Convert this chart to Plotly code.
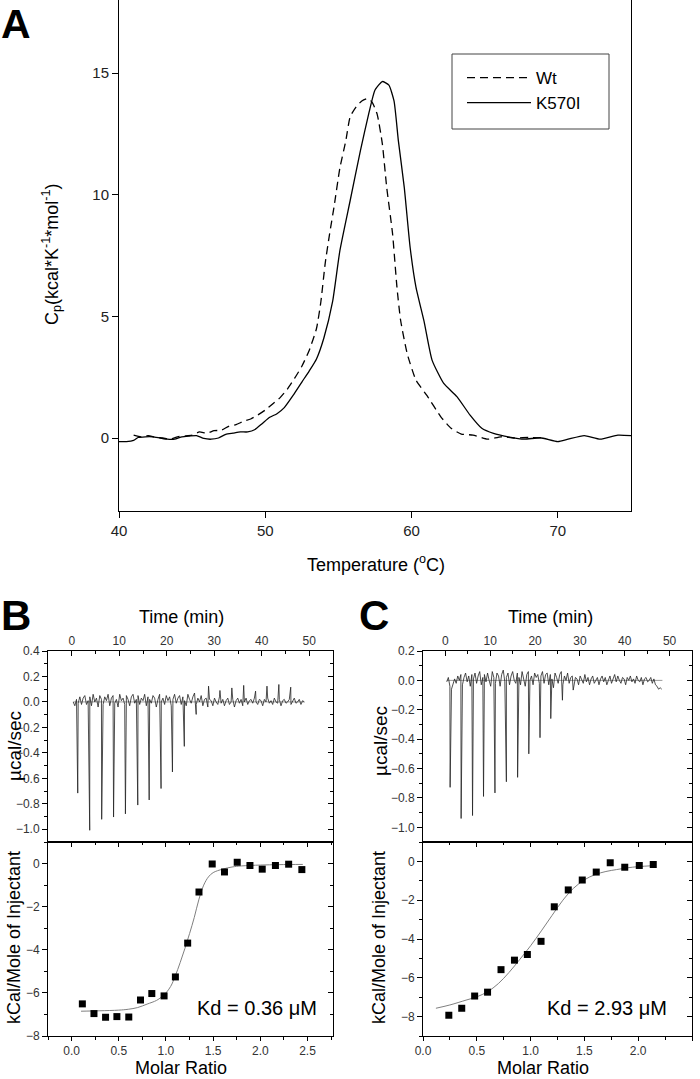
import plotly.graph_objects as go

FONT = "Liberation Sans, Arial, sans-serif"
W, H = 700, 1079

# ---------------- Panel A: DSC ----------------
wt_temp = [41.0, 41.5, 42.0, 42.5, 43.0, 43.5, 44.0, 44.5, 45.0, 45.5, 46.0, 46.5, 47.0, 47.5,
           48.0, 48.5, 49.0, 49.5, 50.0, 50.5, 51.0, 51.5, 52.0, 52.5, 53.0, 53.5,
           53.8, 54.1, 54.4, 54.7, 55.1, 55.5, 55.8, 56.2, 56.6, 57.0, 57.3, 57.65, 58.0, 58.3,
           58.7, 59.0, 59.25, 59.7, 60.3, 61.1, 62.0, 62.7, 63.4, 64.2, 65.2, 66.1, 67.0, 68.0, 69.0]
wt_cp = [0.12, 0.05, 0.10, 0.03, 0.00, -0.05, 0.05, 0.08, 0.12, 0.25, 0.20, 0.30, 0.32, 0.48,
         0.55, 0.68, 0.78, 0.95, 1.15, 1.40, 1.65, 2.00, 2.45, 2.95, 3.60, 4.50,
         5.60, 7.20, 8.40, 9.50, 11.1, 12.2, 13.2, 13.6, 13.85, 13.95, 13.8, 13.3, 12.1, 10.3,
         8.4, 6.2, 4.84, 3.47, 2.38, 1.70, 0.87, 0.40, 0.16, 0.12, -0.05, 0.05, 0.00, 0.02, 0.00]

k570_temp = [40.0, 40.5, 41.0, 41.3, 41.8, 42.3, 42.8, 43.3, 43.8, 44.3, 44.8, 45.3, 45.8, 46.3,
             46.8, 47.3, 47.8, 48.3, 48.8, 49.3, 49.8, 50.3, 50.8, 51.3, 51.9, 52.5, 53.0, 53.5,
             54.0, 54.6, 55.1, 55.8, 56.5, 57.1, 57.5, 58.0, 58.45, 58.8, 59.1, 59.5, 59.9, 60.3,
             60.85, 61.4, 62.2, 63.1, 64.0, 64.8, 65.6, 66.6, 67.7, 68.8, 70.0, 70.7, 71.8, 72.9,
             74.1, 75.0]
k570_cp = [-0.15, -0.15, -0.10, 0.02, 0.05, 0.05, 0.00, -0.05, -0.05, 0.05, 0.08, 0.10, -0.02, -0.05,
           0.00, 0.15, 0.20, 0.25, 0.25, 0.35, 0.60, 0.85, 1.00, 1.25, 1.75, 2.30, 2.75, 3.25,
           4.10, 5.60, 7.70, 9.75, 11.8, 13.4, 14.3, 14.65, 14.5, 13.85, 12.2, 10.3, 7.84, 6.20,
           4.80, 3.20, 2.24, 1.70, 0.94, 0.40, 0.19, 0.05, -0.05, 0.01, -0.15, -0.05, 0.10, -0.05,
           0.12, 0.10]

# ---------------- Panel B: ITC (Wt) ----------------
itc_step = 0.35
itc_start = 0.3
b_noise = [0.00, -0.03, 0.02, -0.01, 0.04, -0.02, 0.03, 0.05, -0.02, 0.01,
           0.04, -0.03, 0.06, 0.00, 0.03, -0.04, 0.05, 0.02, -0.02, 0.04,
           0.01, 0.06, -0.03, 0.03, 0.05, -0.01, 0.02, -0.04, 0.06, 0.01,
           0.03, -0.02, 0.05, 0.02, -0.03, 0.04, 0.06, -0.01, 0.02, 0.05,
           -0.02, 0.03, 0.01, 0.06, -0.03, 0.04, 0.02, -0.01, 0.05, 0.03,
           -0.04, 0.02, 0.06, 0.00, 0.03, -0.02, 0.05, 0.01, 0.04, -0.03,
           0.02, 0.06, -0.01, 0.03, 0.05, -0.02, 0.04, 0.01, -0.03, 0.06,
           0.02, -0.01, 0.04, 0.07, -0.02, 0.03, 0.00, 0.05, -0.03, 0.02,
           0.03, -0.04, 0.02, 0.01, -0.03, 0.03, 0.00, -0.02, 0.04, -0.01,
           0.02, -0.03, 0.01, 0.03, -0.02, 0.00, 0.02, -0.04, 0.01, 0.03,
           -0.01, 0.02, -0.03, 0.00, 0.03, -0.02, 0.01, 0.02, -0.01, 0.03,
           0.00, -0.02, 0.02, 0.01, -0.03, 0.02, 0.00, 0.03, -0.01, 0.01,
           -0.02, 0.03, 0.00, -0.01, 0.02, -0.03, 0.01, 0.02, -0.01, 0.00,
           0.02, -0.02, 0.01, 0.03, -0.01, 0.00, 0.02, -0.02, 0.01, 0.00]
b_inj_time = [1.26, 3.78, 6.3, 8.8, 11.3, 13.9, 16.3, 18.8, 21.2, 23.7, 26.2, 28.8, 31.2, 33.7,
              36.2, 38.7, 41.1, 43.6, 46.1]
b_inj_power = [-0.716, -1.008, -0.922, -0.904, -0.879, -0.81, -0.77, -0.68, -0.55, -0.349, -0.098,
               0.124, 0.09, 0.11, 0.13, 0.085, 0.124, 0.137, 0.116]
b_base_time = [0.3, 49.0]
b_base_power = [0.0, 0.0]

b_ratio = [0.114, 0.237, 0.36, 0.48, 0.606, 0.73, 0.85, 0.98, 1.10, 1.23, 1.35, 1.49, 1.62, 1.755,
           1.89, 2.02, 2.16, 2.30, 2.44]
b_kcal = [-6.51, -6.96, -7.13, -7.10, -7.12, -6.33, -6.03, -6.14, -5.26, -3.69, -1.32, -0.02, -0.39,
          0.06, -0.09, -0.26, -0.09, -0.03, -0.28]
b_fit_ratio = [0.10, 0.30, 0.50, 0.60, 0.70, 0.80, 0.90, 0.95, 1.00, 1.05, 1.10, 1.15, 1.20, 1.25,
               1.30, 1.35, 1.40, 1.45, 1.50, 1.60, 1.70, 1.80, 2.00, 2.20, 2.45]
b_fit_kcal = [-6.85, -6.83, -6.80, -6.76, -6.68, -6.52, -6.35, -6.20, -6.00, -5.70, -5.20, -4.60,
              -3.95, -3.25, -2.50, -1.65, -1.00, -0.62, -0.42, -0.26, -0.16, -0.11, -0.07, -0.05, -0.04]

# ---------------- Panel C: ITC (K570I) ----------------
c_noise = [-0.01, 0.02, -0.04, -0.06, -0.03, 0.01, -0.02, 0.03, 0.00, 0.04,
           -0.03, 0.02, 0.05, -0.01, 0.03, -0.04, 0.04, 0.01, 0.05, -0.02,
           0.03, 0.06, -0.03, 0.02, 0.04, -0.01, 0.05, 0.00, -0.04, 0.06,
           0.02, -0.02, 0.05, 0.03, -0.04, 0.04, 0.07, -0.01, 0.02, 0.05,
           -0.03, 0.03, 0.06, 0.00, -0.02, 0.05, 0.02, -0.03, 0.06, 0.01,
           -0.04, 0.04, 0.06, 0.00, 0.03, -0.03, 0.05, 0.02, 0.04, -0.02,
           0.03, 0.06, -0.02, 0.04, 0.05, -0.03, 0.04, 0.01, -0.05, 0.05,
           0.02, -0.02, 0.04, 0.06, -0.03, 0.03, 0.00, 0.05, -0.02, 0.02,
           0.03, -0.04, 0.02, 0.01, -0.03, 0.03, 0.00, -0.02, 0.04, -0.01,
           0.02, -0.03, 0.01, 0.03, -0.02, 0.00, 0.02, -0.03, 0.01, 0.03,
           -0.01, 0.02, -0.03, 0.00, 0.03, -0.02, 0.01, 0.04, -0.01, 0.03,
           0.00, -0.02, 0.02, 0.01, -0.03, 0.02, 0.00, 0.03, -0.01, 0.01,
           -0.02, 0.03, 0.00, -0.01, 0.02, -0.03, 0.01, 0.02, -0.01, 0.00,
           0.02, -0.02, 0.01, -0.03, -0.04, -0.06, -0.05, -0.06]
c_inj_time = [1.05, 3.5, 6.05, 8.5, 11.05, 13.6, 16.1, 18.6, 21.1, 23.5, 26.1, 28.5]
c_inj_power = [-0.728, -0.94, -0.92, -0.79, -0.766, -0.69, -0.66, -0.50, -0.39, -0.26, -0.135, -0.066]
c_base_time = [0.3, 48.4]
c_base_power = [0.0, 0.0]

c_ratio = [0.24, 0.36, 0.48, 0.60, 0.725, 0.85, 0.97, 1.097, 1.22, 1.35, 1.48, 1.61, 1.74, 1.875,
           2.01, 2.14]
c_kcal = [-7.93, -7.57, -6.94, -6.74, -5.58, -5.09, -4.80, -4.12, -2.34, -1.47, -0.96, -0.55, -0.07,
          -0.30, -0.21, -0.16]
c_fit_ratio = [0.12, 0.25, 0.40, 0.50, 0.60, 0.70, 0.80, 0.90, 1.00, 1.10, 1.20, 1.30, 1.40, 1.50,
               1.60, 1.70, 1.80, 1.90, 2.00, 2.14]
c_fit_kcal = [-7.57, -7.40, -7.15, -6.98, -6.72, -6.30, -5.72, -5.05, -4.35, -3.58, -2.78, -2.00,
              -1.38, -0.95, -0.68, -0.52, -0.42, -0.33, -0.27, -0.22]


def thermogram(noise, inj_t, inj_p):
    pts = [(itc_start + itc_step * i, v) for i, v in enumerate(noise)]
    pts += list(zip(inj_t, inj_p))
    pts.sort()
    return [p[0] for p in pts], [p[1] for p in pts]


b_t, b_p = thermogram(b_noise, b_inj_time, b_inj_power)
c_t, c_p = thermogram(c_noise, c_inj_time, c_inj_power)

fig = go.Figure()

# Panel A traces
fig.add_trace(go.Scatter(x=wt_temp, y=wt_cp, mode="lines", name="Wt",
                         line=dict(color="black", width=1.3, dash="8px,5px", shape="spline", smoothing=0.5),
                         xaxis="x", yaxis="y"))
fig.add_trace(go.Scatter(x=k570_temp, y=k570_cp, mode="lines", name="K570I",
                         line=dict(color="black", width=1.3, shape="spline", smoothing=0.5),
                         xaxis="x", yaxis="y"))

# Panel B traces
fig.add_trace(go.Scatter(x=b_base_time, y=b_base_power, mode="lines", showlegend=False,
                         line=dict(color="#9a9a9a", width=1), xaxis="x2", yaxis="y2"))
fig.add_trace(go.Scatter(x=b_t, y=b_p, mode="lines", showlegend=False,
                         line=dict(color="#222", width=0.8), xaxis="x2", yaxis="y2"))
fig.add_trace(go.Scatter(x=b_fit_ratio, y=b_fit_kcal, mode="lines", showlegend=False,
                         line=dict(color="#808080", width=1, shape="spline"), xaxis="x3", yaxis="y3"))
fig.add_trace(go.Scatter(x=b_ratio, y=b_kcal, mode="markers", showlegend=False,
                         marker=dict(symbol="square", size=7, color="black"), xaxis="x3", yaxis="y3"))

# Panel C traces
fig.add_trace(go.Scatter(x=c_base_time, y=c_base_power, mode="lines", showlegend=False,
                         line=dict(color="#9a9a9a", width=1), xaxis="x4", yaxis="y4"))
fig.add_trace(go.Scatter(x=c_t, y=c_p, mode="lines", showlegend=False,
                         line=dict(color="#222", width=0.8), xaxis="x4", yaxis="y4"))
fig.add_trace(go.Scatter(x=c_fit_ratio, y=c_fit_kcal, mode="lines", showlegend=False,
                         line=dict(color="#808080", width=1, shape="spline"), xaxis="x5", yaxis="y5"))
fig.add_trace(go.Scatter(x=c_ratio, y=c_kcal, mode="markers", showlegend=False,
                         marker=dict(symbol="square", size=7, color="black"), xaxis="x5", yaxis="y5"))

# dummy traces to activate overlay (mirror-tick) axes
for xa, ya in [("x2", "y6"), ("x3", "y7"), ("x4", "y8"), ("x5", "y9"), ("x6", "y3"), ("x7", "y5")]:
    fig.add_trace(go.Scatter(x=[None], y=[None], mode="lines", showlegend=False,
                             hoverinfo="skip", xaxis=xa, yaxis=ya))


def ax(**kw):
    base = dict(showgrid=False, zeroline=False, showline=True, linecolor="black", linewidth=1,
                ticks="outside", tickcolor="black", ticklen=5, tickwidth=1, automargin=False,
                tickfont=dict(size=12, color="#333", family=FONT))
    base.update(kw)
    return base


def overlay(**kw):
    base = dict(showgrid=False, zeroline=False, showline=False, ticks="inside", tickcolor="black",
                ticklen=5, tickwidth=1, showticklabels=False, automargin=False)
    base.update(kw)
    return base


def px_x(p):
    return p / W


def px_y(p):
    return 1 - p / H


BX = [px_x(48), px_x(333)]
CX = [px_x(423), px_x(692)]
TOPY = [px_y(842), px_y(651)]
BOTY = [px_y(1036), px_y(842)]

minor_out = lambda d: dict(ticks="outside", dtick=d, ticklen=3, tickcolor="black")
minor_in = lambda d: dict(ticks="inside", dtick=d, ticklen=3, tickcolor="black")

layout = dict(
    width=W, height=H, margin=dict(l=0, r=0, t=0, b=0, pad=0, autoexpand=False),
    paper_bgcolor="white", plot_bgcolor="white",
    font=dict(family=FONT, color="black"),
    showlegend=True,
    legend=dict(x=px_x(462), y=px_y(60), xanchor="left", yanchor="top",
                borderwidth=0, bgcolor="rgba(0,0,0,0)",
                font=dict(size=17, family=FONT), itemwidth=64, tracegroupgap=2),
    shapes=[dict(type="rect", xref="paper", yref="paper",
                 x0=px_x(452), x1=px_x(609), y0=px_y(129), y1=px_y(54),
                 line=dict(color="#444", width=1), fillcolor="rgba(0,0,0,0)", layer="above")],
    # Panel A
    xaxis=ax(domain=[px_x(119), px_x(631)], anchor="y", range=[40, 75], tickvals=[40, 50, 60, 70],
             mirror=True, ticklen=6, tickfont=dict(size=15, color="#222", family=FONT)),
    yaxis=ax(domain=[px_y(511), 1.0], anchor="x", range=[-3, 18], tickvals=[0, 5, 10, 15],
             mirror=True, ticklen=6, tickfont=dict(size=15, color="#222", family=FONT)),
    # Panel B top
    xaxis2=ax(domain=BX, anchor="y2", side="top", range=[-5, 55], tick0=0, dtick=10, ticks="inside",
              minor=minor_in(5), mirror=True),
    yaxis2=ax(domain=TOPY, anchor="x2", range=[-1.1, 0.4], tick0=0, dtick=0.2, tickformat=".1f",
              minor=minor_out(0.1), mirror=True),
    yaxis6=overlay(overlaying="y2", anchor="x2", side="right", range=[-1.1, 0.4], tick0=0, dtick=0.2,
                   minor=minor_in(0.1)),
    # Panel B bottom
    xaxis3=ax(domain=BX, anchor="y3", range=[-0.25, 2.77], tick0=0, dtick=0.5, tickformat=".1f",
              minor=minor_out(0.25), mirror=True, ticklen=4),
    yaxis3=ax(domain=BOTY, anchor="x3", range=[-8, 1], tick0=0, dtick=2, minor=minor_out(1), mirror=True),
    xaxis6=overlay(overlaying="x3", anchor="y3", side="top", range=[-0.25, 2.77], tick0=0, dtick=0.5,
                   minor=minor_in(0.25)),
    yaxis7=overlay(overlaying="y3", anchor="x3", side="right", range=[-8, 1], tick0=0, dtick=2,
                   minor=minor_in(1)),
    # Panel C top
    xaxis4=ax(domain=CX, anchor="y4", side="top", range=[-5, 55], tick0=0, dtick=10, ticks="inside",
              minor=minor_in(5), mirror=True),
    yaxis4=ax(domain=TOPY, anchor="x4", range=[-1.1, 0.2], tick0=0, dtick=0.2, tickformat=".1f",
              minor=minor_out(0.1), mirror=True),
    yaxis8=overlay(overlaying="y4", anchor="x4", side="right", range=[-1.1, 0.2], tick0=0, dtick=0.2,
                   minor=minor_in(0.1)),
    # Panel C bottom
    xaxis5=ax(domain=CX, anchor="y5", range=[0, 2.5], tick0=0, dtick=0.5, tickformat=".1f",
              minor=minor_out(0.25), mirror=True, ticklen=4),
    yaxis5=ax(domain=BOTY, anchor="x5", range=[-9, 1], tick0=0, dtick=2, minor=minor_out(1), mirror=True),
    xaxis7=overlay(overlaying="x5", anchor="y5", side="top", range=[0, 2.5], tick0=0, dtick=0.5,
                   minor=minor_in(0.25)),
    yaxis9=overlay(overlaying="y5", anchor="x5", side="right", range=[-9, 1], tick0=0, dtick=2,
                   minor=minor_in(1)),
)
fig.update_layout(**layout)


def note(text, x, y, size, angle=0, bold=False, xanchor="center", yanchor="middle"):
    if bold:
        text = "<b>" + text + "</b>"
    fig.add_annotation(text=text, x=px_x(x), y=px_y(y), xref="paper", yref="paper",
                       showarrow=False, textangle=angle, xanchor=xanchor, yanchor=yanchor,
                       borderpad=0, font=dict(size=size, family=FONT, color="black"))


# Panel letters
note("A", 0, 0, 41, bold=True, xanchor="left", yanchor="top")
note("B", 0, 615, 42, bold=True, xanchor="left")
note("C", 358, 615, 42, bold=True, xanchor="left")

# Panel A titles
note("Temperature (<sup>o</sup>C)", 376, 563, 18)
note("C<sub>p</sub>(kcal*K<sup>-1</sup>*mol<sup>-1</sup>)", 52, 255, 18, angle=-90)

# Panel B titles
note("Time (min)", 181, 617, 18)
note("µcal/sec", 14, 746, 19, angle=-90)
note("kCal/Mole of Injectant", 14, 938, 18, angle=-90)
note("Molar Ratio", 181, 1079, 18, yanchor="bottom")
note("Kd = 0.36 μM", 257, 1008, 20)

# Panel C titles
note("Time (min)", 550, 617, 18)
note("µcal/sec", 380, 741, 19, angle=-90)
note("kCal/Mole of Injectant", 379, 938, 18, angle=-90)
note("Molar Ratio", 543, 1079, 18, yanchor="bottom")
note("Kd = 2.93 μM", 607, 1008, 20)

fig.write_html("out.html", config={"displayModeBar": False},
               post_script="document.body.style.margin='0px';")
